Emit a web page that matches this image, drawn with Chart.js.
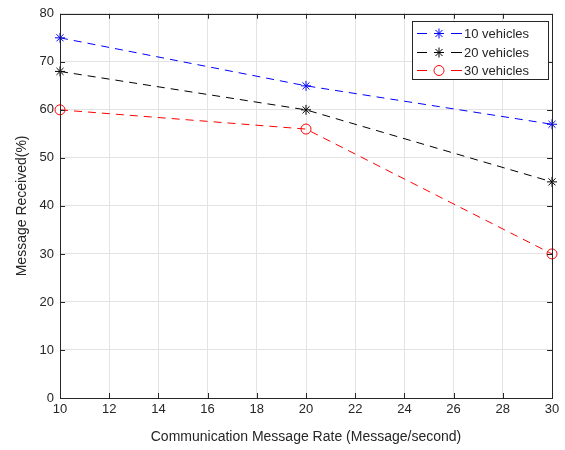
<!DOCTYPE html>
<html>
<head>
<meta charset="utf-8">
<script src="https://cdn.jsdelivr.net/npm/chart.js@4/dist/chart.umd.min.js"></script>
<style>
  html, body { margin: 0; padding: 0; background: #fff; }
  #wrap { width: 565px; height: 450px; }
</style>
</head>
<body>
<div id="wrap"><canvas id="rate-chart"></canvas></div>
<script>
const rates = [10, 20, 30];
const received10 = [75, 65, 57];
const received20 = [68, 60, 45];
const received30 = [60, 56, 30];
const seriesLabels = ["10 vehicles", "20 vehicles", "30 vehicles"];

const toPoints = (vals) => rates.map((r, i) => ({ x: r, y: vals[i] }));

// box round the plot, inward ticks and the legend, drawn MATLAB style
const axesBox = {
    id: "axesBox",
    afterDraw(chart) {
        const ctx = chart.ctx;
        const a = chart.chartArea;
        const xs = chart.scales.x;
        const ys = chart.scales.y;
        ctx.save();
        ctx.strokeStyle = "#262626";
        ctx.lineWidth = 1;
        ctx.beginPath();
        for (let v = 10; v <= 30; v += 2) {
            const px = Math.round(xs.getPixelForValue(v)) + 0.5;
            ctx.moveTo(px, a.bottom); ctx.lineTo(px, a.bottom - 5);
            ctx.moveTo(px, a.top); ctx.lineTo(px, a.top + 5);
        }
        for (let v = 0; v <= 80; v += 10) {
            const py = Math.round(ys.getPixelForValue(v)) + 0.5;
            ctx.moveTo(a.left, py); ctx.lineTo(a.left + 5, py);
            ctx.moveTo(a.right, py); ctx.lineTo(a.right - 5, py);
        }
        ctx.stroke();
        ctx.strokeRect(Math.round(a.left) + 0.5, Math.round(a.top) + 0.5,
            Math.round(a.right - a.left), Math.round(a.bottom - a.top));

        // legend
        const lx = 412, ly = 21, lw = 136, lh = 58;
        ctx.fillStyle = "#fff";
        ctx.fillRect(lx, ly, lw, lh);
        ctx.strokeStyle = "#262626";
        ctx.strokeRect(lx + 0.5, ly + 0.5, lw, lh);
        ctx.font = "13px 'Liberation Sans', Arial, sans-serif";
        ctx.textBaseline = "middle";
        chart.data.datasets.forEach((ds, i) => {
            const y = Math.round(ly + 12 + i * 18.5) + 0.5;
            ctx.strokeStyle = ds.borderColor;
            ctx.lineWidth = 1;
            ctx.beginPath();
            ctx.moveTo(417, y); ctx.lineTo(427, y);
            ctx.moveTo(451, y); ctx.lineTo(462, y);
            ctx.stroke();
            ctx.fillStyle = ds.pointBackgroundColor;
            ctx.strokeStyle = ds.borderColor;
            Chart.helpers.drawPoint(ctx, {
                pointStyle: ds.pointStyle,
                radius: ds.pointRadius,
                borderWidth: 1,
                rotation: 0
            }, 439, y);
            ctx.fillStyle = "#262626";
            ctx.fillText(ds.label, 464, y + 1);
        });
        ctx.restore();
    }
};

const makeSet = (label, vals, color, style) => ({
    label: label,
    data: toPoints(vals),
    borderColor: color,
    backgroundColor: style === "circle" ? "rgba(0,0,0,0)" : color,
    borderWidth: 1,
    borderDash: [8, 6],
    pointStyle: style,
    pointRadius: 5,
    pointBorderWidth: 1,
    pointBorderColor: color,
    pointBackgroundColor: style === "circle" ? "rgba(0,0,0,0)" : color,
    tension: 0,
    clip: false,
});

const tickFont = { family: "'Liberation Sans', Arial, sans-serif", size: 13 };

new Chart(document.getElementById("rate-chart"), {
    type: "line",
    data: {
        datasets: [
            makeSet(seriesLabels[0], received10, "#0000ff", "star"),
            makeSet(seriesLabels[1], received20, "#000000", "star"),
            makeSet(seriesLabels[2], received30, "#ff0000", "circle"),
        ],
    },
    options: {
        responsive: true,
        maintainAspectRatio: false,
        animation: false,
        layout: { padding: { top: 9, right: 13, left: 0, bottom: 0 } },
        plugins: { legend: { display: false }, tooltip: { enabled: false } },
        scales: {
            x: {
                type: "linear",
                min: 10,
                max: 30,
                ticks: { stepSize: 2, color: "#262626", font: tickFont, padding: 4 },
                grid: { color: "#e3e3e3", tickLength: 0, drawTicks: false },
                border: { display: false },
                title: {
                    display: true,
                    text: "Communication Message Rate (Message/second)",
                    color: "#262626",
                    font: { family: "'Liberation Sans', Arial, sans-serif", size: 14 },
                    padding: { top: 6 },
                },
                afterFit: (s) => { s.height = 52; },
            },
            y: {
                min: 0,
                max: 80,
                ticks: { stepSize: 10, color: "#262626", font: tickFont, padding: 6 },
                grid: { color: "#e3e3e3", tickLength: 0, drawTicks: false },
                border: { display: false },
                title: {
                    display: true,
                    text: "Message Received(%)",
                    color: "#262626",
                    font: { family: "'Liberation Sans', Arial, sans-serif", size: 14 },
                    padding: { top: 14, bottom: 0 },
                },
                afterFit: (s) => { s.width = 60; },
            },
        },
    },
    plugins: [axesBox],
});
</script>
</body>
</html>
